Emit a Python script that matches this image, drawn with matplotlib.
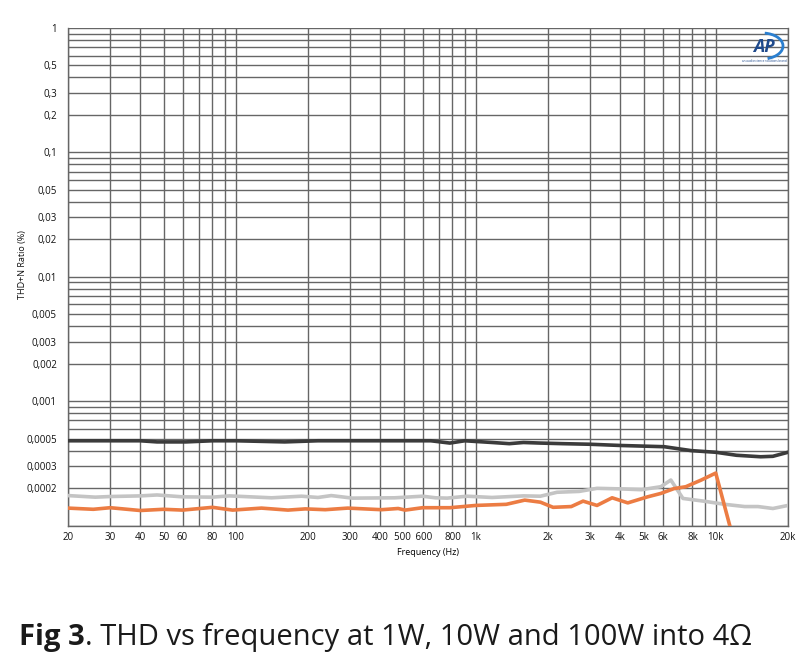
import matplotlib.pyplot as plt
from matplotlib.patches import Arc
from matplotlib.ticker import FixedLocator, NullFormatter

# 1W (dark), 10W (grey), 100W (orange) THD+N vs frequency
freq_1w = [20, 30, 40, 47, 62, 80, 100, 160, 220, 300, 450, 650, 780, 900,
           1170, 1380, 1580, 1860, 2300, 3000, 4000, 6100, 7900, 10000, 12200,
           15400, 17300, 20000]
thd_1w = [0.00048, 0.00048, 0.00048, 0.00047, 0.00047, 0.00048, 0.00048,
          0.00047, 0.00048, 0.00048, 0.00048, 0.00048, 0.00046, 0.00048,
          0.000465, 0.000455, 0.000465, 0.00046, 0.000455, 0.00045, 0.00044,
          0.00043, 0.00040, 0.000388, 0.000367, 0.000357, 0.00036, 0.000388]

freq_10w = [20, 26, 30, 40, 47, 60, 80, 94, 115, 141, 188, 220, 250, 306, 460,
            600, 680, 760, 920, 1170, 1580, 1860, 2180, 2700, 3200, 4000, 4900,
            5900, 6500, 7300, 8900, 10900, 13200, 15000, 17300, 20000]
thd_10w = [0.000174, 0.000169, 0.000171, 0.000173, 0.000176, 0.00017, 0.000169,
           0.000173, 0.00017, 0.000167, 0.000172, 0.000168, 0.000174, 0.000166,
           0.000167, 0.000172, 0.000167, 0.000166, 0.000172, 0.000168, 0.000173,
           0.000172, 0.000185, 0.000188, 0.000199, 0.000197, 0.000194, 0.000205,
           0.000232, 0.000165, 0.000157, 0.000148, 0.000142, 0.000142, 0.000137,
           0.000145]

freq_100w = [20, 25.5, 30, 40, 50, 60, 80, 97, 128, 165, 195, 236, 293, 405, 475,
             508, 600, 780, 1000, 1340, 1600, 1860, 2100, 2500, 2800, 3200, 3700,
             4300, 5200, 5900, 6700, 7500, 8700, 10000, 12500]
thd_100w = [0.000138, 0.000135, 0.000139, 0.000132, 0.000135, 0.000133, 0.00014,
            0.000133, 0.000138, 0.000133, 0.000136, 0.000134, 0.000138, 0.000134,
            0.000137, 0.000133, 0.000139, 0.000139, 0.000145, 0.000148, 0.00016,
            0.000154, 0.00014, 0.000142, 0.000157, 0.000145, 0.000167, 0.000152,
            0.00017, 0.000181, 0.000198, 0.000205, 0.000232, 0.000264, 0.0000525]

x_ticks = [20, 30, 40, 50, 60, 80, 100, 200, 300, 400, 500, 600, 800, 1000,
           2000, 3000, 4000, 5000, 6000, 8000, 10000, 20000]
x_labels = ["20", "30", "40", "50", "60", "80", "100", "200", "300", "400",
            "500 ", " 600", "800", "1k", "2k", "3k", "4k", "5k", "6k", "8k",
            "10k", "20k"]
y_ticks = [1, 0.5, 0.3, 0.2, 0.1, 0.05, 0.03, 0.02, 0.01, 0.005, 0.003, 0.002,
           0.001, 0.0005, 0.0003, 0.0002]
y_labels = ["1", "0,5", "0,3", "0,2", "0,1", "0,05", "0,03", "0,02", "0,01",
            "0,005", "0,003", "0,002", "0,001", "0,0005", "0,0003", "0,0002"]

plt.rcParams['font.family'] = ['Open Sans', 'DejaVu Sans']

fig = plt.figure(figsize=(8.08, 6.65), dpi=100)
ax = fig.add_axes([68 / 808, 1 - 525.5 / 665, 720 / 808, 497.5 / 665])

grid_col = "#666666"
ax.set_xscale("log")
ax.set_yscale("log")
ax.set_xlim(20, 20000)
ax.set_ylim(0.0001, 1)

# grid positions: every 1..9 step per decade (x stops at 10k)
x_minor = [m * 10 ** e for e in range(1, 4) for m in range(1, 10)
           if 20 <= m * 10 ** e <= 10000 and m * 10 ** e not in x_ticks]
y_minor = [round(m * 10.0 ** e, 6) for e in range(-4, 0) for m in range(1, 10)
           if round(m * 10.0 ** e, 6) not in y_ticks]

ax.xaxis.set_major_locator(FixedLocator(x_ticks))
ax.set_xticklabels(x_labels)
ax.xaxis.set_minor_locator(FixedLocator(x_minor))
ax.xaxis.set_minor_formatter(NullFormatter())
ax.yaxis.set_major_locator(FixedLocator(y_ticks))
ax.set_yticklabels(y_labels)
ax.yaxis.set_minor_locator(FixedLocator(y_minor))
ax.yaxis.set_minor_formatter(NullFormatter())

ax.tick_params(which="both", length=0, labelsize=7, colors="#111111")
ax.tick_params(axis="x", pad=5)
ax.tick_params(axis="y", pad=8)
ax.grid(True, which="both", color=grid_col, linewidth=1.0)
for s in ax.spines.values():
    s.set_color(grid_col)
    s.set_linewidth(1.0)
ax.spines["top"].set_visible(False)

ax.plot(freq_1w, thd_1w, color="#3b3b3b", lw=2.6, zorder=3)
ax.plot(freq_10w, thd_10w, color="#c4c4c4", lw=2.6, zorder=3)
ax.plot(freq_100w, thd_100w, color="#ec7c43", lw=2.6, zorder=4)

ax.set_xlabel("Frequency (Hz)", fontsize=6.5, labelpad=3)
fig.text(23 / 808, 1 - 265 / 665, "THD+N Ratio (%)", fontsize=6.5,
         rotation=90, ha="center", va="center", color="#111111")

# AP logo
fig.text(764 / 808, 1 - 47 / 665, "AP", fontsize=13, fontweight="bold",
         style="italic", color="#1f4a8c", ha="center", va="center")
fig.patches.append(Arc((762 / 808, 1 - 46 / 665), 42 / 808, 26 / 665,
                       theta1=-70, theta2=80, color="#2a7fd0", lw=2,
                       transform=fig.transFigure))
fig.text(764 / 808, 1 - 61 / 665, "an audioscience solutions brand",
         fontsize=2.2, color="#1f4a8c", ha="center", va="center")

# caption
t1 = fig.text(19 / 808, 20 / 665, "Fig 3", fontsize=21, fontweight="bold",
              color="#1a1a1a", ha="left", va="baseline")
fig.canvas.draw()
bb = t1.get_window_extent()
fig.text(bb.x1 / 808, 20 / 665,
         ". THD vs frequency at 1W, 10W and 100W into 4\u03a9",
         fontsize=21, color="#1a1a1a", ha="left", va="baseline")

fig.savefig("out.png", dpi=100)
